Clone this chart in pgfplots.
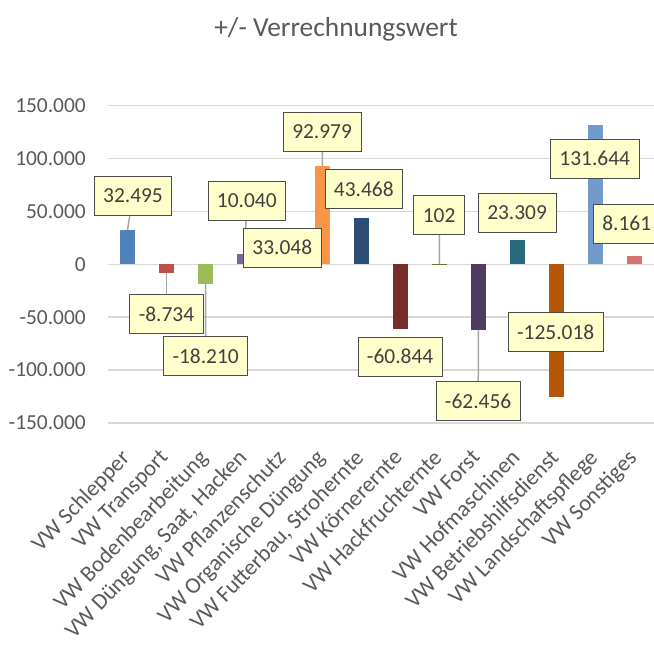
\documentclass[border=0pt]{standalone}
\usepackage{fontspec}
\setmainfont{Carlito}
\usepackage{pgfplots}
\pgfplotsset{compat=1.18}
\definecolor{c0}{HTML}{4F81BD}
\definecolor{c1}{HTML}{C0504D}
\definecolor{c2}{HTML}{9BBB59}
\definecolor{c3}{HTML}{8064A2}
\definecolor{c4}{HTML}{4BACC6}
\definecolor{c5}{HTML}{F79646}
\definecolor{c6}{HTML}{2C4D75}
\definecolor{c7}{HTML}{772C2A}
\definecolor{c8}{HTML}{5F7530}
\definecolor{c9}{HTML}{4D3B62}
\definecolor{c10}{HTML}{276A7C}
\definecolor{c11}{HTML}{B65708}
\definecolor{c12}{HTML}{729ACA}
\definecolor{c13}{HTML}{D4736F}
\definecolor{gridc}{HTML}{D9D9D9}
\definecolor{txt}{HTML}{595959}
\definecolor{lbl}{HTML}{404040}
\definecolor{boxf}{HTML}{FFFFCC}
\definecolor{lead}{HTML}{A6A6A6}
\tikzset{lab/.style={fill=boxf, draw=black!70, line width=0.9bp, text=lbl,
  font=\fontsize{21.5}{26}\selectfont, inner xsep=9bp, inner ysep=0pt, minimum height=39bp},
  ld/.style={draw=lead, line width=1.5bp}}
\pgfplotsset{vb/.style={ybar, bar width=15.5bp, bar shift=0pt, fill=#1, draw=none}}
\begin{document}
\begin{tikzpicture}
\begin{axis}[
  at={(108bp,-423bp)}, anchor=south west,
  scale only axis, width=546bp, height=317.5bp,
  xmin=-0.5, xmax=13.5, ymin=-150000, ymax=150000,
  clip=false, scaled y ticks=false,
  axis line style={draw=none},
  major tick length=0pt,
  ymajorgrids, grid style={gridc, line width=1.4bp},
  ytick={-150000,-100000,-50000,0,50000,100000,150000},
  yticklabels={-150.000,-100.000,-50.000,0,50.000,100.000,150.000},
  xtick={0,1,2,3,4,5,6,7,8,9,10,11,12,13},
  xticklabels={VW Schlepper, VW Transport, VW Bodenbearbeitung, {VW Düngung, Saat, Hacken}, VW Pflanzenschutz, VW Organische Düngung, {VW Futterbau, Strohernte}, VW Körnerernte, VW Hackfruchternte, VW Forst, VW Hofmaschinen, VW Betriebshilfsdienst, VW Landschaftspflege, VW Sonstiges},
  tick label style={font=\fontsize{21.5}{26}\selectfont, text=txt},
  yticklabel style={anchor=east, inner sep=0pt, xshift=-22bp},
  xticklabel style={font=\fontsize{22.8}{27}\selectfont, inner sep=0pt, anchor=north east, xshift=-8bp, yshift=-25bp, rotate=46},
]
\addplot[vb=c0] coordinates {(0,32495)};
\addplot[vb=c1] coordinates {(1,-8734)};
\addplot[vb=c2] coordinates {(2,-18210)};
\addplot[vb=c3] coordinates {(3,10040)};
\addplot[vb=c4] coordinates {(4,33048)};
\addplot[vb=c5] coordinates {(5,92979)};
\addplot[vb=c6] coordinates {(6,43468)};
\addplot[vb=c7] coordinates {(7,-60844)};
\addplot[vb=c8] coordinates {(8,102)};
\addplot[vb=c9] coordinates {(9,-62456)};
\addplot[vb=c10] coordinates {(10,23309)};
\addplot[vb=c11] coordinates {(11,-125018)};
\addplot[vb=c12] coordinates {(12,131644)};
\addplot[vb=c13] coordinates {(13,8161)};
% leader lines
\draw[ld] (axis cs:0,32495) -- (axis cs:0.141,64700);
\draw[ld] (axis cs:1,-8734) -- (axis cs:1.0,-47200);
\draw[ld] (axis cs:2,-18210) -- (axis cs:2.005,-86900);
\draw[ld] (axis cs:3,10040) -- (axis cs:3.06,60000);
\draw[ld] (axis cs:5,92979) -- (axis cs:4.99,124900);
\draw[ld] (axis cs:8,102) -- (axis cs:7.99,46300);
\draw[ld] (axis cs:9,-62456) -- (axis cs:8.99,-129600);
% labels
\node[lab] at (axis cs:0.141,64700) {32.495};
\node[lab] at (axis cs:1.0,-47200) {-8.734};
\node[lab] at (axis cs:2.005,-86900) {-18.210};
\node[lab] at (axis cs:3.06,60000) {10.040};
\node[lab] at (axis cs:3.97,15600) {33.048};
\node[lab] at (axis cs:4.99,124900) {92.979};
\node[lab] at (axis cs:6.06,70800) {43.468};
\node[lab] at (axis cs:6.99,-87400) {-60.844};
\node[lab] at (axis cs:7.99,46300) {102};
\node[lab] at (axis cs:8.99,-129600) {-62.456};
\node[lab] at (axis cs:9.99,48600) {23.309};
\node[lab] at (axis cs:10.98,-63800) {-125.018};
\node[lab] at (axis cs:11.98,99800) {131.644};
\node[lab] at (axis cs:12.8,38300) {8.161};
\end{axis}
\node[font=\fontsize{27.5}{33}\selectfont, text=txt] at (336bp,-29bp) {+/- Verrechnungswert};
\pgfresetboundingbox
\path (0,0) rectangle (654bp,-646bp);
\end{tikzpicture}
\end{document}
